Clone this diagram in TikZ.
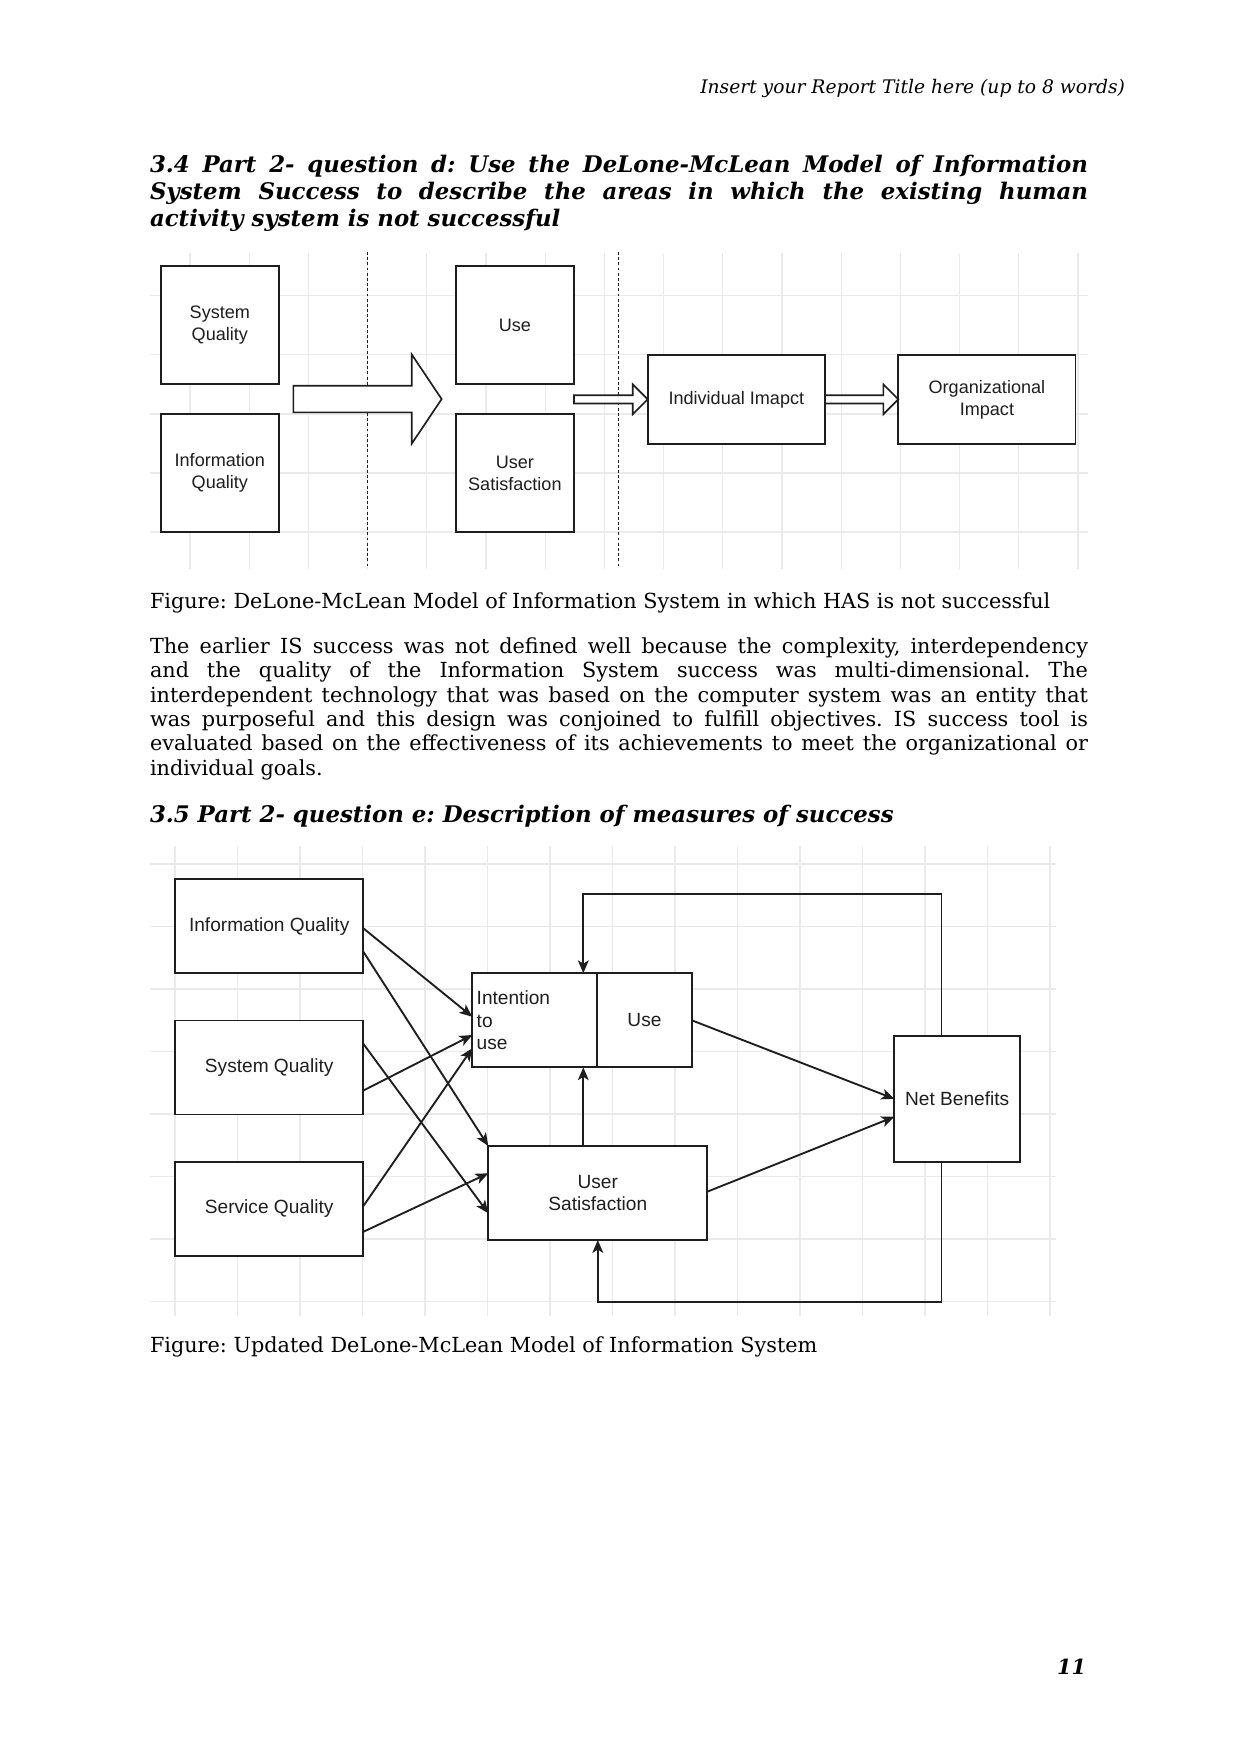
\documentclass[tikz,border=0pt]{standalone}
\usepackage{fontspec}
\setmainfont{DejaVu Serif}
\newfontfamily\diafont{Liberation Sans}
\usetikzlibrary{arrows.meta,positioning,calc}
\definecolor{gridgray}{HTML}{EAEAEA}
\definecolor{inkgray}{HTML}{1E1E1E}
\frenchspacing

% hollow block arrow: tail, tip, half shaft, half head, head length
\newcommand{\blockarrow}[5]{%
  \draw[blockline] let \p1=(#1), \p2=(#2) in
    (\x1,{\y1+#3}) -- ({\x2-#5},{\y1+#3}) -- ({\x2-#5},{\y1+#4}) -- (\x2,\y1)
    -- ({\x2-#5},{\y1-#4}) -- ({\x2-#5},{\y1-#3}) -- (\x1,{\y1-#3}) -- cycle;}

\begin{document}
\begin{tikzpicture}[x=0.16922mm, y=-0.16922mm,
  every node/.style={inner sep=0pt, outer sep=0pt},
  gridline/.style={draw=gridgray, line width=0.6pt},
  sqbox/.style={draw=inkgray, line width=0.85pt, fill=white, text=inkgray, minimum width=20.04mm, minimum height=20.04mm, align=center, font=\diafont\fontsize{8.7}{10.6}\selectfont},
  widebox/.style={sqbox, minimum width=30mm, minimum height=15mm},
  qbox/.style={draw=inkgray, line width=0.85pt, fill=white, text=inkgray, minimum height=15.91mm, align=center, font=\diafont\fontsize{9.2}{11}\selectfont},
  divider/.style={draw=inkgray, line width=0.7pt, dash pattern=on 1.4pt off 1.1pt},
  blockline/.style={draw=inkgray, line width=0.8pt, fill=white},
  conn/.style={draw=inkgray, line width=0.9pt, -{Stealth[length=6.2pt,width=5.2pt,inset=1.6pt]}},
  bodytext/.style={anchor=base west, text width=158.73mm, align=justify, font=\fontsize{10}{11.75}\selectfont},
  headtext/.style={bodytext, font=\bfseries\itshape\fontsize{11}{13}\selectfont}]
  \path[use as bounding box, fill=white] (0,0) rectangle (1241,1754);

  % page texts
  \node[anchor=base east, font=\itshape\fontsize{9}{11}\selectfont] (header) at (1125,93.4) {Insert your Report Title here (up to 8 words)};
  \node[headtext] (head34) at (150,172.4) {3.4 Part 2- question d: Use the DeLone-McLean Model of Information\linebreak System Success to describe the areas in which the existing human\linebreak activity system is not successful};

  % first figure
  \foreach \gx in {0,...,15}
    \draw[gridline] ({190+59.2*\gx},253) -- ({190+59.2*\gx},568.5);
  \foreach \gy in {0,...,4}
    \draw[gridline] (150,{295.7+59.1*\gy}) -- (1088,{295.7+59.1*\gy});
  \draw[divider] (367.7,252) -- (367.7,568);
  \draw[divider] (618.3,252) -- (618.3,568);

  \node[sqbox] (sysq) at (219.85,325) {System\\Quality};
  \node[sqbox, below=5.03mm of sysq] (infq) {Information\\Quality};
  \node[sqbox] (use) at (514.85,325) {Use};
  \node[sqbox, below=5.03mm of use] (usat) {User\\Satisfaction};
  \node[widebox] (indimp) at (736.35,399.35) {Individual Imapct};
  \node[widebox, right=12.4mm of indimp] (orgimp) {Organizational\\Impact};

  \coordinate (bigtail) at ($(sysq.east)!0.5!(infq.east)+(14.3,0)$);
  \coordinate (bigtip) at ($(use.west)!0.5!(usat.west)+(-14,0)$);
  \blockarrow{bigtail}{bigtip}{6.4pt}{21.5pt}{14.4pt}
  \blockarrow{use.east |- indimp.west}{indimp.west}{2pt}{7.2pt}{7.2pt}
  \blockarrow{indimp.east}{orgimp.west}{2pt}{7.2pt}{7.2pt}

  \node[bodytext] (cap1) at (150,608.2) {Figure: DeLone-McLean Model of Information System in which HAS is not successful};
  \node[bodytext] (para) at (150,653.2) {The earlier IS success was not defined well because the complexity, interdependency\linebreak and the quality of the Information System success was multi-dimensional. The\linebreak interdependent technology that was based on the computer system was an entity that\linebreak was purposeful and this design was conjoined to fulfill objectives. IS success tool is\linebreak evaluated based on the effectiveness of its achievements to meet the organizational or\linebreak individual goals.};
  \node[headtext] (head35) at (150,822.2) {3.5 Part 2- question e: Description of measures of success};

  % second figure
  \foreach \gx in {0,...,14}
    \draw[gridline] ({175+62.5*\gx},846) -- ({175+62.5*\gx},1316);
  \foreach \gy in {0,...,7}
    \draw[gridline] (150,{864+62.5*\gy}) -- (1056,{864+62.5*\gy});

  \node[qbox, minimum width=31.86mm] (iq) at (269.2,926.3) {Information Quality};
  \node[qbox, minimum width=31.86mm, below=7.99mm of iq] (sq) {System Quality};
  \node[qbox, minimum width=31.86mm, below=7.99mm of sq] (svq) {Service Quality};
  \node[qbox, minimum width=21.15mm, text width=19.66mm, inner xsep=0.745mm, align=left] (intent) at (534.8,1020.25) {Intention\\to\\use};
  \node[qbox, minimum width=15.96mm, right=0mm of intent] (use2) {Use};
  \node[qbox, minimum width=37.06mm] (usat2) at (597.8,1193) {User\\Satisfaction};
  \node[qbox, minimum width=21.27mm, minimum height=21.27mm] (nb) at (957.15,1098.85) {Net Benefits};

  \draw[conn] ($(iq.east)+(0,2)$) -- ($(intent.west)+(0,-3.5)$);
  \draw[conn] ($(iq.east)+(0,25.4)$) -- (usat2.north west);
  \draw[conn] ($(sq.east)+(0,-23.7)$) -- ($(usat2.west)+(0,20.3)$);
  \draw[conn] ($(sq.east)+(0,23)$) -- ($(intent.west)+(0,14.75)$);
  \draw[conn] ($(svq.east)+(0,-2.7)$) -- ($(intent.west)+(0,28)$);
  \draw[conn] ($(svq.east)+(0,23)$) -- ($(usat2.west)+(0,-19.7)$);
  \draw[conn] (use2.east) -- (nb.west);
  \draw[conn] ($(usat2.east)+(0,-1.3)$) -- ($(nb.west)+(0,17.9)$);

  \coordinate (topturn) at (941.5,894);
  \coordinate (topdrop) at (583.3,894);
  \coordinate (botturn) at (941.5,1302.3);
  \draw[conn] (usat2.north -| topdrop) -- (intent.south -| topdrop);
  \draw[conn] (nb.north -| topturn) -- (topturn) -- (topdrop) -- (intent.north -| topdrop);
  \draw[conn] (nb.south -| botturn) -- (botturn) -| (usat2.south);

  \node[bodytext] (cap2) at (150,1352.2) {Figure: Updated DeLone-McLean Model of Information System};
  \node[anchor=base east, font=\bfseries\itshape\fontsize{10}{12}\selectfont] (pagenum) at (1086,1674.2) {11};
\end{tikzpicture}
\end{document}
